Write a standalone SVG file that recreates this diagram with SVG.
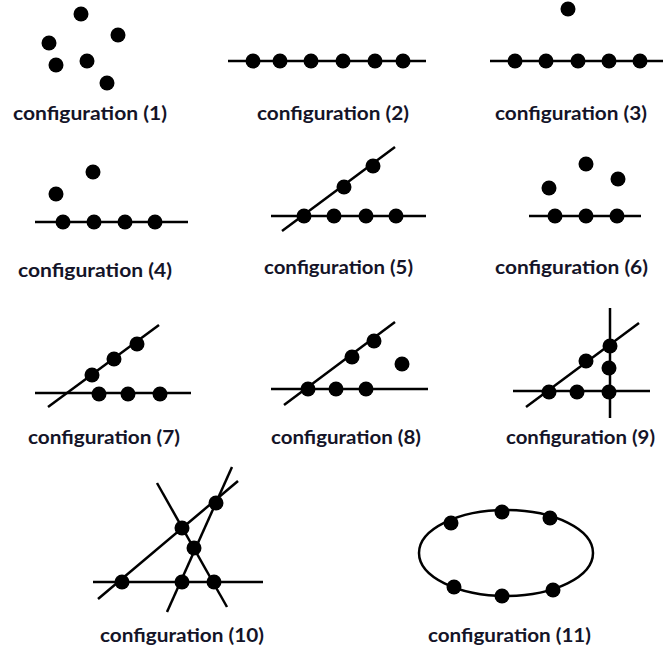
<svg xmlns="http://www.w3.org/2000/svg" width="663" height="654" viewBox="0 0 663 654">
<style>
.ln{stroke:#000;stroke-width:2.5;fill:none;stroke-linecap:butt}
.d{fill:#000}
.lb{font-family:Lato,"Open Sans","Liberation Sans",sans-serif;font-weight:bold;font-size:19px;fill:#141428}
</style>
<rect width="663" height="654" fill="#fff"/>
<g id="config1">
<circle class="d" cx="81" cy="14" r="7.5"/>
<circle class="d" cx="118" cy="35" r="7.5"/>
<circle class="d" cx="49" cy="43" r="7.5"/>
<circle class="d" cx="56" cy="65" r="7.5"/>
<circle class="d" cx="87" cy="61" r="7.5"/>
<circle class="d" cx="107" cy="83" r="7.5"/>
<text class="lb" x="13" y="120" textLength="154" lengthAdjust="spacingAndGlyphs">configuration (1)</text>
</g>
<g id="config2">
<line class="ln" x1="228" y1="61" x2="426" y2="61"/>
<circle class="d" cx="253" cy="61" r="7.5"/>
<circle class="d" cx="280" cy="61" r="7.5"/>
<circle class="d" cx="311" cy="61" r="7.5"/>
<circle class="d" cx="343" cy="61" r="7.5"/>
<circle class="d" cx="375" cy="61" r="7.5"/>
<circle class="d" cx="403" cy="61" r="7.5"/>
<text class="lb" x="257" y="120" textLength="152" lengthAdjust="spacingAndGlyphs">configuration (2)</text>
</g>
<g id="config3">
<circle class="d" cx="568" cy="9" r="7.5"/>
<line class="ln" x1="490" y1="61" x2="663" y2="61"/>
<circle class="d" cx="515" cy="61" r="7.5"/>
<circle class="d" cx="546" cy="61" r="7.5"/>
<circle class="d" cx="578" cy="61" r="7.5"/>
<circle class="d" cx="609" cy="61" r="7.5"/>
<circle class="d" cx="640" cy="61" r="7.5"/>
<text class="lb" x="495" y="120" textLength="152" lengthAdjust="spacingAndGlyphs">configuration (3)</text>
</g>
<g id="config4">
<circle class="d" cx="93" cy="172" r="7.5"/>
<circle class="d" cx="56" cy="194" r="7.5"/>
<line class="ln" x1="35" y1="222" x2="188" y2="222"/>
<circle class="d" cx="63" cy="222" r="7.5"/>
<circle class="d" cx="94" cy="222" r="7.5"/>
<circle class="d" cx="125" cy="222" r="7.5"/>
<circle class="d" cx="155" cy="222" r="7.5"/>
<text class="lb" x="18" y="277" textLength="154" lengthAdjust="spacingAndGlyphs">configuration (4)</text>
</g>
<g id="config5">
<line class="ln" x1="271" y1="216" x2="426" y2="216"/>
<line class="ln" x1="282" y1="231" x2="395" y2="147"/>
<circle class="d" cx="304" cy="216" r="7.5"/>
<circle class="d" cx="334" cy="216" r="7.5"/>
<circle class="d" cx="366" cy="216" r="7.5"/>
<circle class="d" cx="396" cy="216" r="7.5"/>
<circle class="d" cx="344" cy="187" r="7.5"/>
<circle class="d" cx="373" cy="166" r="7.5"/>
<text class="lb" x="264" y="274" textLength="149" lengthAdjust="spacingAndGlyphs">configuration (5)</text>
</g>
<g id="config6">
<circle class="d" cx="586" cy="164" r="7.5"/>
<circle class="d" cx="549" cy="188" r="7.5"/>
<circle class="d" cx="618" cy="179" r="7.5"/>
<line class="ln" x1="529" y1="216" x2="641" y2="216"/>
<circle class="d" cx="555" cy="216" r="7.5"/>
<circle class="d" cx="586" cy="216" r="7.5"/>
<circle class="d" cx="617" cy="216" r="7.5"/>
<text class="lb" x="495" y="274" textLength="153" lengthAdjust="spacingAndGlyphs">configuration (6)</text>
</g>
<g id="config7">
<line class="ln" x1="35" y1="393" x2="191" y2="393"/>
<line class="ln" x1="48" y1="407" x2="159" y2="325"/>
<circle class="d" cx="99" cy="394" r="7.5"/>
<circle class="d" cx="128" cy="394" r="7.5"/>
<circle class="d" cx="160" cy="394" r="7.5"/>
<circle class="d" cx="92" cy="375" r="7.5"/>
<circle class="d" cx="114" cy="359" r="7.5"/>
<circle class="d" cx="137" cy="344" r="7.5"/>
<text class="lb" x="28" y="444" textLength="152" lengthAdjust="spacingAndGlyphs">configuration (7)</text>
</g>
<g id="config8">
<line class="ln" x1="271" y1="389" x2="428" y2="389"/>
<line class="ln" x1="284" y1="405" x2="395" y2="322"/>
<circle class="d" cx="308" cy="389" r="7.5"/>
<circle class="d" cx="336" cy="389" r="7.5"/>
<circle class="d" cx="366" cy="389" r="7.5"/>
<circle class="d" cx="352" cy="357" r="7.5"/>
<circle class="d" cx="374" cy="341" r="7.5"/>
<circle class="d" cx="402" cy="364" r="7.5"/>
<text class="lb" x="271" y="444" textLength="150" lengthAdjust="spacingAndGlyphs">configuration (8)</text>
</g>
<g id="config9">
<line class="ln" x1="610" y1="308" x2="610" y2="418"/>
<line class="ln" x1="513" y1="391" x2="650" y2="391"/>
<line class="ln" x1="526" y1="407" x2="639" y2="323"/>
<circle class="d" cx="549" cy="392" r="7.5"/>
<circle class="d" cx="577" cy="392" r="7.5"/>
<circle class="d" cx="609" cy="392" r="7.5"/>
<circle class="d" cx="586" cy="361" r="7.5"/>
<circle class="d" cx="610" cy="346" r="7.5"/>
<circle class="d" cx="609" cy="368" r="7.5"/>
<text class="lb" x="506" y="444" textLength="149" lengthAdjust="spacingAndGlyphs">configuration (9)</text>
</g>
<g id="config10">
<line class="ln" x1="93" y1="582" x2="263" y2="582"/>
<line class="ln" x1="98" y1="599" x2="238" y2="481"/>
<line class="ln" x1="157" y1="483" x2="227" y2="607"/>
<line class="ln" x1="167" y1="612" x2="232" y2="467"/>
<circle class="d" cx="122" cy="582" r="7.5"/>
<circle class="d" cx="182" cy="582" r="7.5"/>
<circle class="d" cx="214" cy="582" r="7.5"/>
<circle class="d" cx="182" cy="528" r="7.5"/>
<circle class="d" cx="194" cy="548" r="7.5"/>
<circle class="d" cx="216" cy="503" r="7.5"/>
<text class="lb" x="100" y="642" textLength="164" lengthAdjust="spacingAndGlyphs">configuration (10)</text>
</g>
<g id="config11">
<ellipse class="ln" cx="506" cy="553" rx="87" ry="43"/>
<circle class="d" cx="451" cy="523" r="7.5"/>
<circle class="d" cx="502" cy="512" r="7.5"/>
<circle class="d" cx="550" cy="518" r="7.5"/>
<circle class="d" cx="454" cy="587" r="7.5"/>
<circle class="d" cx="502" cy="596" r="7.5"/>
<circle class="d" cx="553" cy="590" r="7.5"/>
<text class="lb" x="428" y="642" textLength="163" lengthAdjust="spacingAndGlyphs">configuration (11)</text>
</g>
</svg>
